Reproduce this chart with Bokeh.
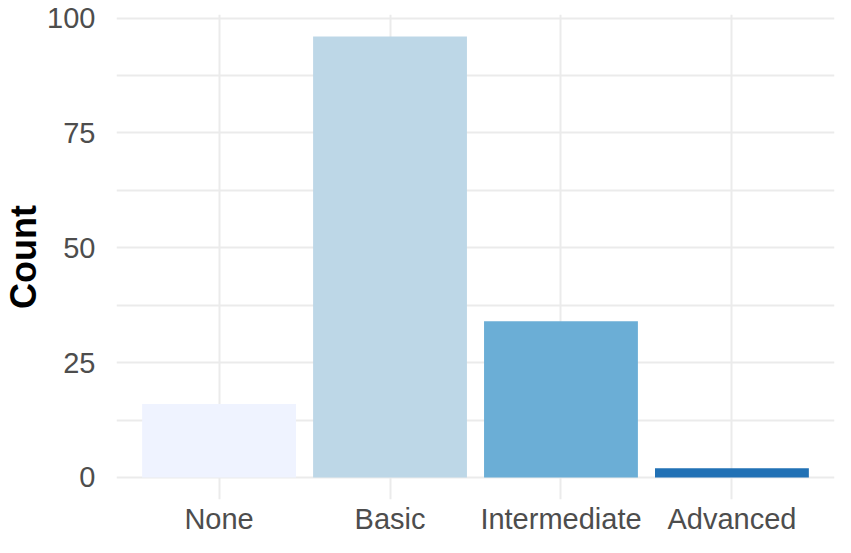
from bokeh.plotting import figure
from bokeh.models import Range1d, FixedTicker, ColumnDataSource
from bokeh.embed import file_html
from bokeh.resources import INLINE

categories = ["None", "Basic", "Intermediate", "Advanced"]
counts = [16, 96, 34, 2]
bar_colors = ["#EFF3FF", "#BDD7E7", "#6BAED6", "#2171B5"]
y_ticks = [0, 25, 50, 75, 100]
y_minor = [12.5, 37.5, 62.5, 87.5]

xpos = list(range(1, len(categories) + 1))
src = ColumnDataSource(dict(x=xpos, top=counts, color=bar_colors))

ymax = max(counts)
pad = ymax * 0.05
p = figure(width=835, height=537, output_backend="svg", toolbar_location=None,
           x_range=Range1d(0.4, len(categories) + 0.6),
           y_range=Range1d(-pad, ymax + pad),
           min_border_left=106, min_border_right=1, min_border_top=14, min_border_bottom=30)
p.outline_line_color = None
p.background_fill_color = "white"
p.border_fill_color = "white"

p.vbar(x="x", top="top", bottom=0, width=0.9, fill_color="color", line_color=None, source=src)

p.xaxis.ticker = FixedTicker(ticks=xpos)
p.xaxis.major_label_overrides = {i: c for i, c in zip(xpos, categories)}
p.yaxis.ticker = FixedTicker(ticks=y_ticks, minor_ticks=y_minor)

for ax in (p.xaxis, p.yaxis):
    ax.axis_line_color = None
    ax.major_tick_line_color = None
    ax.minor_tick_line_color = None
    ax.major_label_text_font = "Liberation Sans"
    ax.major_label_text_font_size = "29px"
    ax.major_label_text_color = "#4D4D4D"

p.xaxis.major_label_standoff = -3
p.yaxis.major_label_standoff = 15
p.yaxis.axis_label = "Count"
p.yaxis.axis_label_text_font = "Liberation Sans"
p.yaxis.axis_label_text_font_size = "36px"
p.yaxis.axis_label_text_font_style = "bold"
p.yaxis.axis_label_text_color = "black"
p.yaxis.axis_label_standoff = 0

p.xgrid.grid_line_color = "#EBEBEB"
p.xgrid.grid_line_width = 2
p.ygrid.grid_line_color = "#EBEBEB"
p.ygrid.grid_line_width = 2
p.ygrid.minor_grid_line_color = "#EBEBEB"
p.ygrid.minor_grid_line_width = 2

open("out.html", "w").write(file_html(p, INLINE))
